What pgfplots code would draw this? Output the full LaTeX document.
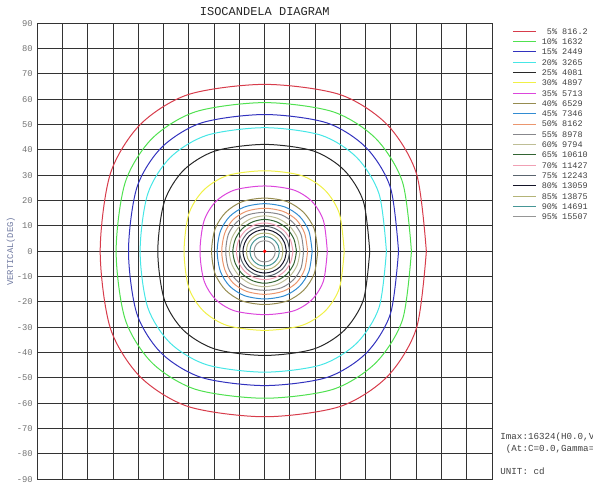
\documentclass[border=0pt]{standalone}
\usepackage{pgfplots}
\pgfplotsset{compat=1.18}
\usepackage{fontspec}
\setmainfont{Liberation Mono}
\definecolor{c5}{RGB}{215,60,75}
\definecolor{c10}{RGB}{80,225,80}
\definecolor{c15}{RGB}{50,50,190}
\definecolor{c20}{RGB}{70,230,230}
\definecolor{c25}{RGB}{40,40,40}
\definecolor{c30}{RGB}{240,240,70}
\definecolor{c35}{RGB}{220,70,220}
\definecolor{c40}{RGB}{150,140,80}
\definecolor{c45}{RGB}{50,140,210}
\definecolor{c50}{RGB}{235,150,110}
\definecolor{c55}{RGB}{135,135,140}
\definecolor{c60}{RGB}{190,190,150}
\definecolor{c65}{RGB}{50,100,50}
\definecolor{c70}{RGB}{240,160,180}
\definecolor{c75}{RGB}{90,100,110}
\definecolor{c80}{RGB}{20,20,40}
\definecolor{c85}{RGB}{180,180,120}
\definecolor{c90}{RGB}{70,150,150}
\definecolor{c95}{RGB}{150,150,150}
\definecolor{ylab}{RGB}{110,120,160}
\begin{document}
\begin{tikzpicture}
\useasboundingbox (0,0) rectangle (296.5pt,242pt);
\begin{axis}[
 at={(18.65pt,2.35pt)}, anchor=south west, scale only axis,
 width=227.35pt, height=228pt,
 xmin=-90,xmax=90,ymin=-90,ymax=90,
 xtick={-90,-80,...,90}, ytick={-90,-80,...,90},
 xticklabels={},
 major tick length=0pt,
 grid=major,
 grid style={black!80, line width=0.5pt},
 axis line style={black!80, line width=0.5pt},
 /pgf/number format/assume math mode=true,
 yticklabel style={font=\fontsize{4.4}{5}\selectfont, text=black!55, inner sep=0pt, xshift=-2.1pt},
 title={ISOCANDELA DIAGRAM},
 every axis title/.style={at={(axis description cs:0.5,1)}, anchor=center, yshift=5.8pt, font=\fontsize{6}{7}\selectfont, text=black!85},
 ylabel={VERTICAL(DEG)},
 ylabel style={at={(axis description cs:-0.058,0.5)}, anchor=center, font=\fontsize{4.4}{5}\selectfont, text=ylab},
 clip mode=individual,
 legend style={at={(rel axis cs:1.044,0.994)}, anchor=north west, draw=none, fill=none, inner sep=0pt, font=\fontsize{4.25}{5}\selectfont, text=black!75, row sep=0.25pt, column sep=2.2pt, nodes={inner sep=0.5pt, text height=3.4pt, text depth=0.5pt}},
 legend image code/.code={\draw[#1] (0pt,0pt) -- (11.5pt,0pt);},
 legend cell align=left,
 every axis plot/.append style={line width=0.5pt, smooth},
]
\addplot[c5] coordinates {(64,0) (60.1,30.6) (48.5,50.0) (29.7,61.9) (0,65.9) (-30.2,61.9) (-49.3,50.0) (-61.1,30.6) (-65.1,0) (-61.1,-30.3) (-49.3,-49.5) (-30.2,-61.3) (0,-65.3) (29.7,-61.3) (48.5,-49.5) (60.1,-30.3) (64,0)};
\addlegendentry{\phantom{1}5\% 816.2}
\addplot[c10] coordinates {(58.1,0) (54.6,27.2) (44.0,44.5) (27.0,55.1) (0,58.7) (-27.3,55.1) (-44.6,44.5) (-55.2,27.2) (-58.8,0) (-55.2,-26.9) (-44.6,-44.0) (-27.3,-54.5) (0,-58.0) (27.0,-54.5) (44.0,-44.0) (54.6,-26.9) (58.1,0)};
\addlegendentry{10\% 1632}
\addplot[c15] coordinates {(53,0) (49.8,25.1) (40.2,40.9) (24.6,50.7) (0,54) (-25.0,50.7) (-40.9,40.9) (-50.6,25.1) (-53.9,0) (-50.6,-24.6) (-40.9,-40.2) (-25.0,-49.8) (0,-53) (24.6,-49.8) (40.2,-40.2) (49.8,-24.6) (53,0)};
\addlegendentry{15\% 2449}
\addplot[c20] coordinates {(48.2,0) (45.3,22.6) (36.5,37.0) (22.4,45.8) (0,48.8) (-22.9,45.8) (-37.4,37.0) (-46.3,22.6) (-49.3,0) (-46.3,-22.1) (-37.4,-36.2) (-22.9,-44.8) (0,-47.7) (22.4,-44.8) (36.5,-36.2) (45.3,-22.1) (48.2,0)};
\addlegendentry{20\% 3265}
\addplot[c25] coordinates {(41.6,0) (39.1,19.6) (31.5,32.0) (19.3,39.6) (0,42.2) (-19.6,39.6) (-32.1,32.0) (-39.7,19.6) (-42.3,0) (-39.7,-19.1) (-32.1,-31.2) (-19.6,-38.6) (0,-41.1) (19.3,-38.6) (31.5,-31.2) (39.1,-19.1) (41.6,0)};
\addlegendentry{25\% 4081}
\addplot[c30] coordinates {(31.5,0) (29.6,14.8) (23.9,24.1) (14.6,29.9) (0,31.8) (-14.8,29.9) (-24.2,24.1) (-30.0,14.8) (-31.9,0) (-30.0,-14.5) (-24.2,-23.6) (-14.8,-29.3) (0,-31.2) (14.6,-29.3) (23.9,-23.6) (29.6,-14.5) (31.5,0)};
\addlegendentry{30\% 4897}
\addplot[c35] coordinates {(24.8,0) (23.3,12.0) (18.8,19.6) (11.5,24.2) (0,25.8) (-11.9,24.2) (-19.4,19.6) (-24.0,12.0) (-25.6,0) (-24.0,-11.6) (-19.4,-19.0) (-11.9,-23.5) (0,-25.0) (11.5,-23.5) (18.8,-19.0) (23.3,-11.6) (24.8,0)};
\addlegendentry{35\% 5713}
\addplot[c40] coordinates {(21,0) (19.6,8.9) (15.4,15.4) (8.9,19.6) (0,21) (-8.9,19.6) (-15.4,15.4) (-19.6,8.9) (-21,0) (-19.6,-8.9) (-15.4,-15.4) (-8.9,-19.6) (0,-21) (8.9,-19.6) (15.4,-15.4) (19.6,-8.9) (21,0)};
\addlegendentry{40\% 6529}
\addplot[c45] coordinates {(18.8,0) (17.5,8.0) (13.8,13.8) (8.0,17.5) (0,18.8) (-8.0,17.5) (-13.8,13.8) (-17.5,8.0) (-18.8,0) (-17.5,-8.0) (-13.8,-13.8) (-8.0,-17.5) (0,-18.8) (8.0,-17.5) (13.8,-13.8) (17.5,-8.0) (18.8,0)};
\addlegendentry{45\% 7346}
\addplot[c50] coordinates {(17,0) (15.8,7.2) (12.5,12.5) (7.2,15.8) (0,17) (-7.2,15.8) (-12.5,12.5) (-15.8,7.2) (-17,0) (-15.8,-7.2) (-12.5,-12.5) (-7.2,-15.8) (0,-17) (7.2,-15.8) (12.5,-12.5) (15.8,-7.2) (17,0)};
\addlegendentry{50\% 8162}
\addplot[c55] coordinates {(15.4,0) (14.4,6.6) (11.3,11.3) (6.6,14.4) (0,15.4) (-6.6,14.4) (-11.3,11.3) (-14.4,6.6) (-15.4,0) (-14.4,-6.6) (-11.3,-11.3) (-6.6,-14.4) (0,-15.4) (6.6,-14.4) (11.3,-11.3) (14.4,-6.6) (15.4,0)};
\addlegendentry{55\% 8978}
\addplot[c60] coordinates {(14,0) (12.9,5.4) (9.9,9.9) (5.4,12.9) (0,14) (-5.4,12.9) (-9.9,9.9) (-12.9,5.4) (-14,0) (-12.9,-5.4) (-9.9,-9.9) (-5.4,-12.9) (0,-14) (5.4,-12.9) (9.9,-9.9) (12.9,-5.4) (14,0)};
\addlegendentry{60\% 9794}
\addplot[c65] coordinates {(12.6,0) (11.6,4.8) (8.9,8.9) (4.8,11.6) (0,12.6) (-4.8,11.6) (-8.9,8.9) (-11.6,4.8) (-12.6,0) (-11.6,-4.8) (-8.9,-8.9) (-4.8,-11.6) (0,-12.6) (4.8,-11.6) (8.9,-8.9) (11.6,-4.8) (12.6,0)};
\addlegendentry{65\% 10610}
\addplot[c70] coordinates {(11.2,0) (10.3,4.3) (7.9,7.9) (4.3,10.3) (0,11.2) (-4.3,10.3) (-7.9,7.9) (-10.3,4.3) (-11.2,0) (-10.3,-4.3) (-7.9,-7.9) (-4.3,-10.3) (0,-11.2) (4.3,-10.3) (7.9,-7.9) (10.3,-4.3) (11.2,0)};
\addlegendentry{70\% 11427}
\addplot[c75] coordinates {(9.9,0) (9.1,3.8) (7.0,7.0) (3.8,9.1) (0,9.9) (-3.8,9.1) (-7.0,7.0) (-9.1,3.8) (-9.9,0) (-9.1,-3.8) (-7.0,-7.0) (-3.8,-9.1) (0,-9.9) (3.8,-9.1) (7.0,-7.0) (9.1,-3.8) (9.9,0)};
\addlegendentry{75\% 12243}
\addplot[c80] coordinates {(8.6,0) (7.9,3.3) (6.1,6.1) (3.3,7.9) (0,8.6) (-3.3,7.9) (-6.1,6.1) (-7.9,3.3) (-8.6,0) (-7.9,-3.3) (-6.1,-6.1) (-3.3,-7.9) (0,-8.6) (3.3,-7.9) (6.1,-6.1) (7.9,-3.3) (8.6,0)};
\addlegendentry{80\% 13059}
\addplot[c85] coordinates {(7.2,0) (6.7,2.8) (5.1,5.1) (2.8,6.7) (0,7.2) (-2.8,6.7) (-5.1,5.1) (-6.7,2.8) (-7.2,0) (-6.7,-2.8) (-5.1,-5.1) (-2.8,-6.7) (0,-7.2) (2.8,-6.7) (5.1,-5.1) (6.7,-2.8) (7.2,0)};
\addlegendentry{85\% 13875}
\addplot[c90] coordinates {(5.8,0) (5.4,2.2) (4.1,4.1) (2.2,5.4) (0,5.8) (-2.2,5.4) (-4.1,4.1) (-5.4,2.2) (-5.8,0) (-5.4,-2.2) (-4.1,-4.1) (-2.2,-5.4) (0,-5.8) (2.2,-5.4) (4.1,-4.1) (5.4,-2.2) (5.8,0)};
\addlegendentry{90\% 14691}
\addplot[c95] coordinates {(4.2,0) (3.9,1.6) (3.0,3.0) (1.6,3.9) (0,4.2) (-1.6,3.9) (-3.0,3.0) (-3.9,1.6) (-4.2,0) (-3.9,-1.6) (-3.0,-3.0) (-1.6,-3.9) (0,-4.2) (1.6,-3.9) (3.0,-3.0) (3.9,-1.6) (4.2,0)};
\addlegendentry{95\% 15507}
\addplot[only marks, mark=*, mark size=0.6pt, red, forget plot] coordinates {(0,0)};
\node[anchor=west, inner sep=0pt, font=\fontsize{4.6}{5}\selectfont, text=black!75] at (rel axis cs:1.0176,0.0928) {Imax:16324(H0.0,V0.0)};
\node[anchor=west, inner sep=0pt, font=\fontsize{4.6}{5}\selectfont, text=black!75] at (rel axis cs:1.0176,0.0664) {\phantom{I}(At:C=0.0,Gamma=0.0)};
\node[anchor=west, inner sep=0pt, font=\fontsize{4.6}{5}\selectfont, text=black!75] at (rel axis cs:1.0176,0.0182) {UNIT: cd};
\end{axis}
\end{tikzpicture}
\end{document}
